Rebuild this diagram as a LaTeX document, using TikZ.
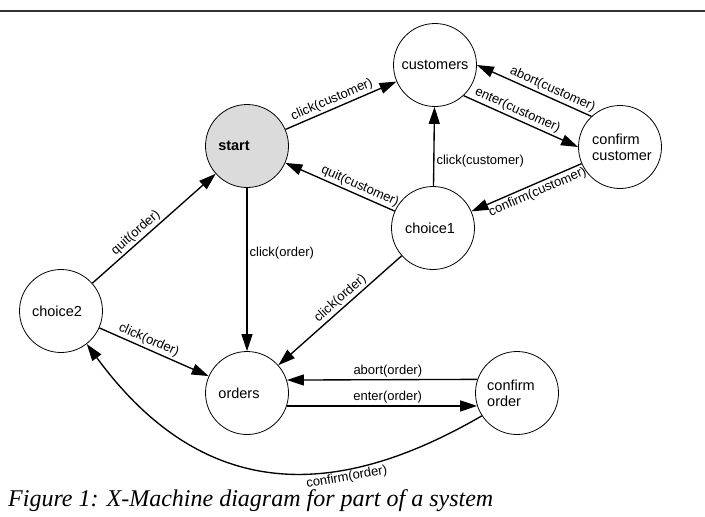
\documentclass[tikz,border=0pt]{standalone}
\usepackage{fontspec}
\setmainfont{Liberation Sans}
\newfontfamily\capfont{Liberation Serif}
\usetikzlibrary{arrows.meta,calc}
\begin{document}
\begin{tikzpicture}[x=1pt,y=-1pt,
  state/.style={circle,draw,line width=0.8pt,minimum size=83pt,inner sep=0pt},
  stxt/.style={font=\fontsize{14.5}{16}\selectfont,align=left,inner sep=0pt},
  edge/.style={line width=1.35pt,-{Triangle[length=17pt,width=11pt]}},
  lab/.style={font=\fontsize{13}{15}\selectfont,inner sep=2pt}]
\useasboundingbox (0,0) rectangle (705,517);
\draw[line width=1.6pt,black!80] (0,11) -- (705,11);
% states
\node[state,label={[stxt]center:customers}] (customers) at (435,65) {};
\node[state,fill=black!14,label={[stxt,font=\fontsize{14.5}{16}\selectfont\bfseries,xshift=-13pt]center:start}] (start) at (247,146) {};
\node[state,label={[stxt,xshift=2pt]center:confirm\\customer}] (ccust) at (620,147) {};
\node[state,label={[stxt,xshift=-3pt]center:choice1}] (choice1) at (433,228) {};
\node[state,label={[stxt,xshift=-4pt]center:choice2}] (choice2) at (61,311) {};
\node[state,label={[stxt,xshift=-8pt]center:orders}] (orders) at (247,393) {};
\node[state,label={[stxt,xshift=-6pt]center:confirm\\order}] (corder) at (517,393) {};
% transitions
\draw[edge] (start) -- node[lab,sloped,above,pos=0.45]{click(customer)} (customers);
\draw[edge] (choice1) -- node[lab,sloped,above,pos=0.35]{quit(customer)} (start);
\draw[edge] (choice1) -- node[lab,right,pos=0.32]{click(customer)} (customers);
\draw[edge] (customers.-47) -- node[lab,sloped,above,pos=0.44]{enter(customer)} (ccust.180);
\draw[edge] (ccust.133) -- node[lab,sloped,above,pos=0.37]{abort(customer)} (customers.0);
\draw[edge] (ccust) -- node[lab,sloped,below,pos=0.43]{confirm(customer)} (choice1);
\draw[edge] (start) -- node[lab,right,pos=0.4]{click(order)} (orders);
\draw[edge] (choice1) -- node[lab,sloped,above,pos=0.45]{click(order)} (orders);
\draw[edge] (choice2) -- node[lab,sloped,above,pos=0.4]{quit(order)} (start);
\draw[edge] (choice2) -- node[lab,sloped,above,pos=0.42]{click(order)} (orders);
\draw[edge] (corder.161.5) -- node[lab,above,pos=0.47]{abort(order)} (orders.18.5);
\draw[edge] (orders.-18.5) -- node[lab,above,pos=0.53]{enter(order)} (corder.198.5);
\draw[edge] (corder.213) .. controls (342,497) and (207,508) .. node[lab,sloped,below,pos=0.33,inner sep=1.5pt]{confirm(order)} (choice2.-52);
% caption
\node[anchor=base west,font=\capfont\itshape\fontsize{24}{28}\selectfont,inner sep=0pt] (cap) at (8,506) {Figure 1: X-Machine diagram for part of a system};
\end{tikzpicture}
\end{document}
